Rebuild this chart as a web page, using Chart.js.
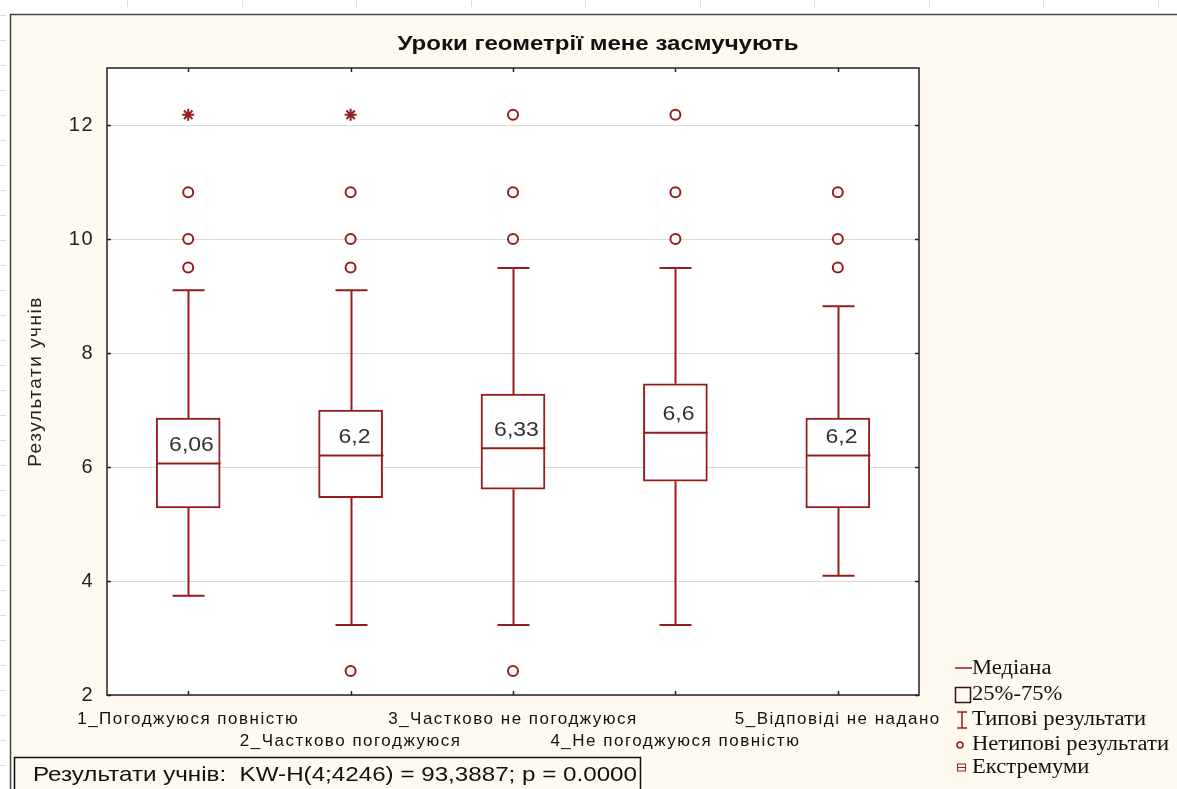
<!DOCTYPE html>
<html>
<head>
<meta charset="utf-8">
<script src="https://cdn.jsdelivr.net/npm/chart.js@4"></script>
<style>
  html, body { margin: 0; padding: 0; background: #fff; }
  canvas { display: block; }
</style>
</head>
<body>
<canvas id="myChart" width="1177" height="789"></canvas>
<script>
const categories = [
  '1_Погоджуюся повністю',
  '2_Частково погоджуюся',
  '3_Частково не погоджуюся',
  '4_Не погоджуюся повністю',
  '5_Відповіді не надано'
];
const medians = [6.06, 6.2, 6.33, 6.6, 6.2];
const q1 = [5.28, 5.46, 5.61, 5.75, 5.28];
const q3 = [6.86, 7.0, 7.28, 7.46, 6.86];
const whiskerLow = [3.74, 3.23, 3.23, 3.23, 4.09];
const whiskerHigh = [9.1, 9.1, 9.49, 9.49, 8.82];
const outliers = [
  [9.5, 10, 10.82],
  [2.42, 9.5, 10, 10.82],
  [2.42, 10, 10.82, 12.18],
  [10, 10.82, 12.18],
  [9.5, 10, 10.82]
];
const extremes = [12.18, 12.18, null, null, null];
const yTicks = [2, 4, 6, 8, 10, 12];

const title = 'Уроки геометрії мене засмучують';
const statsText = 'Результати учнів:  KW-H(4;4246) = 93,3887; p = 0.0000';
const legendItems = ['Медіана', '25%-75%', 'Типові результати', 'Нетипові результати', 'Екстремуми'];

const red = '#981c1c';
const sans = '"Liberation Sans", Arial, sans-serif';
const serif = '"Liberation Serif", "Times New Roman", serif';
Chart.defaults.font.family = sans;

const outlierPoints = [];
outliers.forEach((list, i) => {
  list.forEach(v => outlierPoints.push({x: categories[i], y: v}));
});
const extremePoints = [];
extremes.forEach((v, i) => {
  if (v !== null) extremePoints.push({x: categories[i], y: v});
});

// draws text stretched horizontally, like the wide fonts of the original
function wideText(ctx, text, x, y, sx) {
  ctx.save();
  ctx.translate(x, y);
  ctx.scale(sx, 1);
  ctx.fillText(text, 0, 0);
  ctx.restore();
}

const boxParts = {
  id: 'boxParts',
  beforeDraw(chart) {
    const {ctx, chartArea: a, width, height} = chart;
    ctx.save();
    ctx.fillStyle = '#ffffff';
    ctx.fillRect(0, 0, width, height);
    ctx.fillStyle = '#fffaf0';
    ctx.fillRect(10, 14, width - 10, height - 14);
    // window rulers
    ctx.strokeStyle = '#dddddd';
    ctx.lineWidth = 1;
    for (let y = 15; y < height; y += 25) {
      ctx.beginPath(); ctx.moveTo(0, y + 0.5); ctx.lineTo(6, y + 0.5); ctx.stroke();
    }
    for (let x = 127; x < width; x += 114.5) {
      ctx.beginPath(); ctx.moveTo(Math.round(x) + 0.5, 0); ctx.lineTo(Math.round(x) + 0.5, 7); ctx.stroke();
    }
    ctx.strokeStyle = '#444';
    ctx.lineWidth = 1.5;
    ctx.beginPath();
    ctx.moveTo(10.5, height);
    ctx.lineTo(10.5, 14.5);
    ctx.lineTo(width, 14.5);
    ctx.stroke();
    ctx.fillStyle = '#ffffff';
    ctx.fillRect(a.left, a.top, a.right - a.left, a.bottom - a.top);
    ctx.restore();
    // wide spacing like the original program, used by axis labels
    ctx.letterSpacing = '1.5px';
  },
  afterDatasetsDraw(chart) {
    const {ctx} = chart;
    const xs = chart.scales.x;
    const ys = chart.scales.y;
    const bars = chart.getDatasetMeta(0).data;
    ctx.save();
    ctx.strokeStyle = red;
    ctx.lineWidth = 2;
    categories.forEach((c, i) => {
      const cx = Math.round(xs.getPixelForValue(i)) + 0.5;
      const half = bars[i].width / 2;
      const cap = 16;
      const yHi = ys.getPixelForValue(whiskerHigh[i]);
      const yLo = ys.getPixelForValue(whiskerLow[i]);
      const yQ3 = ys.getPixelForValue(q3[i]);
      const yQ1 = ys.getPixelForValue(q1[i]);
      const yMed = ys.getPixelForValue(medians[i]);
      ctx.beginPath();
      ctx.moveTo(cx, yQ3); ctx.lineTo(cx, yHi);
      ctx.moveTo(cx - cap, yHi); ctx.lineTo(cx + cap, yHi);
      ctx.moveTo(cx, yQ1); ctx.lineTo(cx, yLo);
      ctx.moveTo(cx - cap, yLo); ctx.lineTo(cx + cap, yLo);
      ctx.moveTo(cx - half, yMed); ctx.lineTo(cx + half, yMed);
      ctx.stroke();
      ctx.fillStyle = '#333';
      ctx.font = '20px ' + sans;
      ctx.letterSpacing = '0px';
      ctx.textAlign = 'center';
      ctx.textBaseline = 'middle';
      wideText(ctx, String(medians[i]).replace('.', ','), cx + 3, yMed - 18, 1.15);
    });
    ctx.restore();
  },
  afterDraw(chart) {
    const {ctx, chartArea: a} = chart;
    const xs = chart.scales.x;
    const ys = chart.scales.y;
    ctx.save();
    ctx.letterSpacing = '0px';
    // inner ticks
    ctx.strokeStyle = '#222';
    ctx.lineWidth = 1.5;
    yTicks.forEach(v => {
      const y = Math.round(ys.getPixelForValue(v)) + 0.5;
      ctx.beginPath();
      ctx.moveTo(a.left, y); ctx.lineTo(a.left + 4, y);
      ctx.moveTo(a.right, y); ctx.lineTo(a.right - 4, y);
      ctx.stroke();
    });
    categories.forEach((c, i) => {
      const x = Math.round(xs.getPixelForValue(i)) + 0.5;
      ctx.beginPath();
      ctx.moveTo(x, a.top); ctx.lineTo(x, a.top + 4);
      ctx.moveTo(x, a.bottom); ctx.lineTo(x, a.bottom - 4);
      ctx.stroke();
    });
    ctx.strokeRect(a.left, a.top, a.right - a.left, a.bottom - a.top);

    // title
    ctx.fillStyle = '#111';
    ctx.font = 'bold 21px ' + sans;
    ctx.textAlign = 'center';
    ctx.textBaseline = 'middle';
    const tw = ctx.measureText(title).width;
    wideText(ctx, title, 598, 44, 401 / tw);

    // stats box
    ctx.strokeStyle = '#111';
    ctx.lineWidth = 1.5;
    ctx.strokeRect(14.5, 757.5, 626, 40);
    ctx.font = '21px ' + sans;
    ctx.textAlign = 'left';
    const sw = ctx.measureText(statsText).width;
    wideText(ctx, statsText, 33, 775, 604 / sw);

    // legend
    const ly = [669, 695, 720, 745, 768];
    ctx.font = '20px ' + serif;
    const lw = ctx.measureText(legendItems[3]).width;
    ctx.fillStyle = '#111';
    legendItems.forEach((t, k) => wideText(ctx, t, 972, ly[k], 197 / lw));
    ctx.strokeStyle = red;
    ctx.lineWidth = 1.5;
    ctx.beginPath();
    ctx.moveTo(955, ly[0] - 1); ctx.lineTo(972, ly[0] - 1);
    ctx.moveTo(962, ly[2] - 8); ctx.lineTo(962, ly[2] + 8);
    ctx.moveTo(957, ly[2] - 8); ctx.lineTo(967, ly[2] - 8);
    ctx.moveTo(957, ly[2] + 8); ctx.lineTo(967, ly[2] + 8);
    ctx.stroke();
    ctx.beginPath();
    ctx.arc(960, ly[3], 3, 0, Math.PI * 2);
    ctx.stroke();
    ctx.lineWidth = 1;
    ctx.beginPath();
    ctx.moveTo(957, ly[4] - 4); ctx.lineTo(966, ly[4] - 4);
    ctx.moveTo(957, ly[4] + 3); ctx.lineTo(966, ly[4] + 3);
    ctx.moveTo(957.5, ly[4] - 4); ctx.lineTo(957.5, ly[4] + 3);
    ctx.moveTo(965.5, ly[4] - 4); ctx.lineTo(965.5, ly[4] + 3);
    ctx.moveTo(958, ly[4] - 0.5); ctx.lineTo(965, ly[4] - 0.5);
    ctx.stroke();
    ctx.strokeStyle = '#3a1010';
    ctx.lineWidth = 1.5;
    ctx.strokeRect(955.5, ly[1] - 7.5, 15, 15);
    ctx.restore();
    ctx.letterSpacing = '0px';
  }
};

const data = {
  labels: categories,
  datasets: [
    {
      label: 'box',
      data: q1.map((v, i) => [v, q3[i]]),
      backgroundColor: '#ffffff',
      borderColor: red,
      borderWidth: 2,
      borderSkipped: false,
      barThickness: 64,
      order: 2
    },
    {
      type: 'scatter',
      label: 'outliers',
      data: outlierPoints,
      pointStyle: 'circle',
      pointRadius: 5,
      pointBorderWidth: 2,
      pointBackgroundColor: '#ffffff',
      borderColor: red,
      order: 1
    },
    {
      type: 'scatter',
      label: 'extremes',
      data: extremePoints,
      pointStyle: 'star',
      pointRadius: 6,
      pointBorderWidth: 2,
      borderColor: red,
      order: 1
    }
  ]
};

const config = {
  type: 'bar',
  data: data,
  options: {
    responsive: false,
    animation: false,
    devicePixelRatio: 1,
    layout: { padding: { left: 14, top: 68, right: 258, bottom: 0 } },
    plugins: {
      legend: { display: false },
      title: { display: false },
      tooltip: { enabled: false }
    },
    scales: {
      x: {
        grid: { display: false, drawTicks: false },
        border: { display: false },
        afterFit: scale => { scale.height = 94; },
        ticks: {
          autoSkip: false,
          maxRotation: 0,
          minRotation: 0,
          padding: 13,
          color: '#111',
          font: { size: 17, lineHeight: 1.3 },
          callback: (value, index) => index % 2 === 0 ? categories[index] : ['', categories[index]]
        }
      },
      y: {
        min: 2,
        max: 13,
        afterFit: scale => { scale.width = 93; },
        afterBuildTicks: scale => { scale.ticks = yTicks.map(v => ({value: v})); },
        grid: { color: '#d9d9d9', lineWidth: 1, drawTicks: false },
        border: { display: false },
        ticks: { padding: 13, color: '#222', font: { size: 20 } },
        title: {
          display: true,
          text: 'Результати учнів',
          color: '#222',
          font: { size: 19 },
          padding: { top: 10, bottom: 0 }
        }
      }
    }
  },
  plugins: [boxParts]
};

const myChart = new Chart(document.getElementById('myChart'), config);
</script>
</body>
</html>
